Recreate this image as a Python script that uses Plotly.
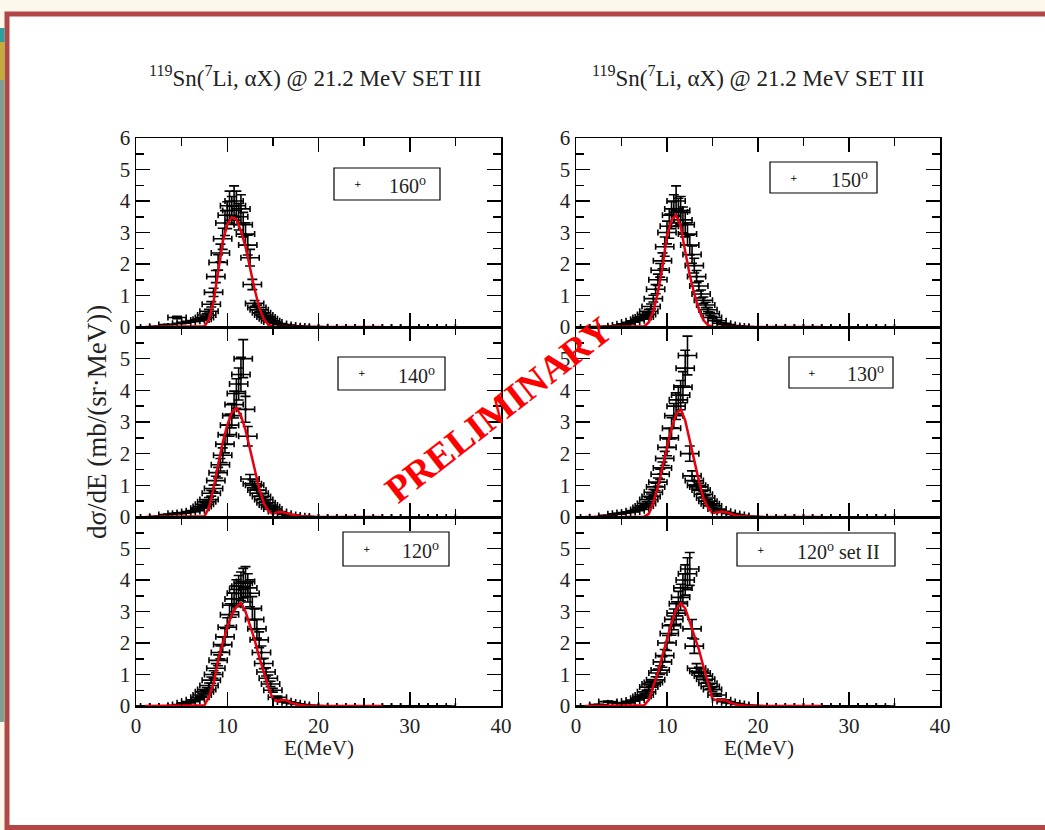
import plotly.graph_objects as go

W, H = 1045, 830


def px(x):
    return x / W


def py(y):
    return 1 - y / H


# ---------------- data ----------------
ENERGY = [0.5, 1.5, 2.5, 3.5, 4.5, 5.0, 5.5, 6.0, 6.5, 7.0,
          7.25, 7.5, 7.75, 8.0, 8.25, 8.5, 8.75, 9.0, 9.25, 9.5,
          9.75, 10.0, 10.25, 10.5, 10.75, 11.0, 11.25, 11.5, 11.75, 12.0,
          12.25, 12.5, 12.75, 13.0, 13.25, 13.5, 13.75, 14.0, 14.25, 14.5,
          14.75, 15.0, 15.5, 16.0, 16.5, 17.0, 17.5, 18.0, 19.0, 20.0,
          21.0, 22.0, 23.0, 24.0, 25.0, 26.0, 27.0, 28.0, 29.0, 30.0,
          31.0, 32.0, 33.0, 34.0]

Y_160 = [0, 0, 0.02, 0.08, 0.3, 0.12, 0.15, 0.18, 0.2, 0.22,
         0.25, 0.3, 0.38, 0.5, 0.72, 1.1, 1.6, 2.05, 2.35, 2.8,
         3.3, 3.55, 3.85, 3.7, 4.0, 3.85, 3.5, 3.75, 3.25, 2.95,
         2.6, 2.2, 1.35, 0.75, 0.62, 0.55, 0.45, 0.38, 0.32, 0.26,
         0.2, 0.16, 0.11, 0.08, 0.06, 0.04, 0.03, 0.02, 0.01, 0.01,
         0, 0, 0, 0, 0, 0, 0, 0, 0, 0,
         0, 0, 0, 0]

Y_150 = [0, 0, 0, 0.02, 0.04, 0.06, 0.1, 0.15, 0.2, 0.25,
         0.3, 0.32, 0.4, 0.5, 0.65, 0.9, 1.2, 1.5, 1.8, 2.1,
         2.55, 3.0, 3.2, 3.55, 3.75, 4.0, 3.65, 3.7, 3.4, 3.25,
         2.95, 2.6, 2.3, 1.95, 1.6, 1.3, 1.05, 0.85, 0.7, 0.55,
         0.42, 0.3, 0.2, 0.12, 0.08, 0.05, 0.03, 0.02, 0.01, 0,
         0, 0, 0, 0, 0, 0, 0, 0, 0, 0,
         0, 0, 0, 0]

Y_140 = [0, 0, 0.02, 0.08, 0.12, 0.12, 0.14, 0.17, 0.2, 0.28,
         0.33, 0.4, 0.48, 0.55, 0.75, 0.9, 1.15, 1.4, 1.65, 1.95,
         2.3, 2.6, 2.9, 3.2, 3.55, 3.9, 4.2, 4.5, 5.0, 3.4,
         2.55, 1.2, 1.05, 1.0, 0.85, 0.75, 0.65, 0.55, 0.45, 0.38,
         0.32, 0.25, 0.17, 0.12, 0.08, 0.06, 0.04, 0.03, 0.01, 0,
         0, 0, 0, 0, 0, 0, 0, 0, 0, 0,
         0, 0, 0, 0]

Y_130 = [0, 0, 0.01, 0.05, 0.1, 0.12, 0.14, 0.16, 0.2, 0.24,
         0.3, 0.35, 0.43, 0.55, 0.65, 0.78, 0.95, 1.1, 1.35, 1.55,
         1.85, 2.2, 2.5, 2.8, 3.2, 3.5, 3.7, 3.85, 4.1, 4.7,
         5.1, 2.0, 1.3, 1.15, 1.0, 0.95, 0.85, 0.72, 0.6, 0.5,
         0.42, 0.35, 0.25, 0.18, 0.14, 0.11, 0.08, 0.05, 0.02, 0.01,
         0, 0, 0, 0, 0, 0, 0, 0, 0, 0,
         0, 0, 0, 0]

Y_120 = [0, 0, 0, 0, 0.02, 0.05, 0.1, 0.14, 0.2, 0.28,
         0.35, 0.45, 0.52, 0.65, 0.82, 1.0, 1.2, 1.45, 1.7, 1.95,
         2.2, 2.5, 2.9, 3.2, 3.4, 3.58, 3.7, 3.8, 3.9, 3.95,
         3.75, 3.58, 3.1, 2.75, 2.45, 2.1, 1.7, 1.35, 1.08, 0.88,
         0.7, 0.5, 0.28, 0.17, 0.13, 0.1, 0.07, 0.05, 0.02, 0.01,
         0, 0, 0, 0, 0, 0, 0, 0, 0, 0,
         0, 0, 0, 0]

Y_120_II = [0, 0, 0.05, 0.14, 0.1, 0.08, 0.1, 0.15, 0.19, 0.25,
            0.3, 0.35, 0.45, 0.6, 0.7, 0.75, 0.83, 1.05, 1.14, 1.4,
            1.6, 2.0, 2.3, 2.55, 2.75, 2.95, 3.25, 3.45, 3.75, 4.0,
            4.2, 4.35, 2.45, 1.9, 1.2, 1.1, 1.05, 0.95, 0.85, 0.72,
            0.62, 0.52, 0.35, 0.2, 0.14, 0.1, 0.08, 0.05, 0.02, 0.01,
            0, 0, 0, 0, 0, 0, 0, 0, 0, 0,
            0, 0, 0, 0]

E_ERR = 1.0        # half width of the energy bins (MeV)
Y_ERR_PCT = 12     # relative error of the cross sections (%)

CURVE_E = [1.0, 3.0, 5.0, 6.0, 7.0,
           7.5, 8.0, 8.5, 9.0, 9.5, 10.0, 10.5, 11.0, 11.5, 12.0, 12.5, 13.0, 13.5, 14.0, 14.5, 15.0,
           15.5, 16.0, 16.5, 17.0, 17.5, 18.0, 19.0, 20.0, 22.0, 24.0, 27.0]

FIT_160 = [0, 0, 0, 0, 0,
           0.02, 0.25, 0.8, 1.75, 2.7, 3.25, 3.48, 3.42, 3.05, 2.55, 1.85, 1.2, 0.62, 0.25, 0.08, 0.02,
           0, 0, 0, 0, 0, 0, 0, 0, 0, 0, 0]
FIT_150 = [0, 0, 0, 0, 0,
           0.02, 0.15, 0.5, 1.1, 1.9, 2.9, 3.4, 3.55, 3.2, 2.4, 1.65, 1.05, 0.55, 0.22, 0.06, 0.01,
           0, 0, 0, 0, 0, 0, 0, 0, 0, 0, 0]
FIT_140 = [0, 0, 0, 0, 0,
           0.02, 0.3, 0.9, 1.65, 2.35, 2.9, 3.3, 3.45, 3.2, 2.75, 2.1, 1.45, 0.9, 0.45, 0.18, 0.1,
           0.15, 0.16, 0.12, 0.08, 0.05, 0.03, 0.01, 0, 0, 0, 0]
FIT_130 = [0, 0, 0, 0, 0,
           0.01, 0.1, 0.45, 0.95, 1.6, 2.25, 2.8, 3.25, 3.4, 3.05, 2.4, 1.8, 1.15, 0.6, 0.3, 0.12,
           0.15, 0.17, 0.15, 0.1, 0.06, 0.03, 0.01, 0, 0, 0, 0]
FIT_120 = [0, 0, 0, 0, 0,
           0.02, 0.3, 0.72, 1.46, 2.0, 2.5, 2.9, 3.15, 3.26, 3.0, 2.55, 2.1, 1.55, 1.05, 0.6, 0.22,
           0.15, 0.2, 0.18, 0.1, 0.06, 0.03, 0, 0, 0, 0, 0]
FIT_120_II = [0, 0, 0, 0, 0,
              0.02, 0.2, 0.6, 1.05, 1.6, 2.1, 2.65, 3.05, 3.26, 3.1, 2.65, 2.2, 1.8, 1.25, 0.7, 0.22,
              0.18, 0.2, 0.17, 0.1, 0.06, 0.03, 0, 0, 0, 0, 0]

LABELS = ["160<sup>o</sup>", "150<sup>o</sup>", "140<sup>o</sup>",
          "130<sup>o</sup>", "120<sup>o</sup>", "120<sup>o</sup> set II"]
TITLE = "<sup>119</sup>Sn(<sup>7</sup>Li, \u03b1X) @ 21.2 MeV SET III"
Y_TITLE = "d\u03c3/dE (mb/(sr\u00b7MeV))"
X_TITLE = "E(MeV)"
X_TICKS = [0, 10, 20, 30, 40]

for arr in (Y_160, Y_150, Y_140, Y_130, Y_120, Y_120_II):
    assert len(arr) == len(ENERGY)
for arr in (FIT_160, FIT_150, FIT_140, FIT_130, FIT_120, FIT_120_II):
    assert len(arr) == len(CURVE_E)

# ---------------- layout helpers ----------------
SERIF = "Liberation Serif, Times New Roman, serif"
COLS = [(136, 501), (576, 940)]
ROWS = [(138, 327), (327, 517), (517, 706)]

panels = [
    # data, fit, row, col, legend box (x0,y0,x1,y1), marker x, text x
    (Y_160, FIT_160, 0, 0, (334, 168, 440, 200), 358, 387),
    (Y_150, FIT_150, 0, 1, (770, 162, 877, 193), 794, 829),
    (Y_140, FIT_140, 1, 0, (338, 357, 445, 390), 362, 396),
    (Y_130, FIT_130, 1, 1, (789, 357, 893, 388), 812, 845),
    (Y_120, FIT_120, 2, 0, (343, 532, 449, 566), 367, 400),
    (Y_120_II, FIT_120_II, 2, 1, (737, 533, 895, 566), 761, 795),
]

fig = go.Figure()
shapes = []
annotations = []

# slide background / frame
shapes.append(dict(type="rect", xref="paper", yref="paper", x0=px(7), x1=px(1100),
                   y0=py(827.5), y1=py(14), fillcolor="white",
                   line=dict(color="#b24747", width=5), layer="below"))
shapes.append(dict(type="rect", xref="paper", yref="paper", x0=0, x1=px(4.5),
                   y0=py(722), y1=py(28), fillcolor="#7f9f92", line=dict(width=0), layer="below"))
shapes.append(dict(type="rect", xref="paper", yref="paper", x0=0, x1=px(4.5),
                   y0=py(80), y1=py(42), fillcolor="#c4ac3c", line=dict(width=0), layer="below"))
shapes.append(dict(type="rect", xref="paper", yref="paper", x0=0, x1=px(4.5),
                   y0=py(42), y1=py(28), fillcolor="#2e9f9c", line=dict(width=0), layer="below"))

axis_common = dict(showline=True, linecolor="black", linewidth=1.5, mirror="ticks",
                   ticks="inside", ticklen=14, tickwidth=1.5, tickcolor="black",
                   showgrid=False, zeroline=False, automargin=False,
                   tickfont=dict(family=SERIF, size=21, color="#222"))

for k, (yv, fit, r, c, box, mx, tx) in enumerate(panels, start=1):
    xa = "x" if k == 1 else f"x{k}"
    ya = "y" if k == 1 else f"y{k}"
    fig.add_trace(go.Scatter(
        x=ENERGY, y=yv, xaxis=xa, yaxis=ya, mode="markers",
        marker=dict(color="black", size=3),
        error_x=dict(type="constant", value=E_ERR, color="black", thickness=1.6, width=3),
        error_y=dict(type="percent", value=Y_ERR_PCT, color="black", thickness=1.6, width=5),
        showlegend=False, hoverinfo="skip"))
    fig.add_trace(go.Scatter(
        x=CURVE_E, y=fit, xaxis=xa, yaxis=ya, mode="lines",
        line=dict(color="#e8000f", width=2.5),
        showlegend=False, hoverinfo="skip"))

    c0, c1 = COLS[c]
    r0, r1 = ROWS[r]
    xkey = "xaxis" if k == 1 else f"xaxis{k}"
    ykey = "yaxis" if k == 1 else f"yaxis{k}"
    fig.layout[xkey] = dict(
        axis_common, domain=[px(c0), px(c1)], range=[0, 40], anchor=ya,
        tickmode="array", tickvals=X_TICKS, ticktext=[str(v) for v in X_TICKS],
        showticklabels=(r == 2),
        minor=dict(ticks="inside", ticklen=8, tickwidth=1.5, tickcolor="black",
                   tickmode="linear", tick0=0, dtick=5))
    ytext = [str(v) for v in range(7)]
    if r > 0:
        ytext[-1] = ""
    fig.layout[ykey] = dict(
        axis_common, domain=[py(r1), py(r0)], range=[0, 6], anchor=xa,
        tickmode="array", tickvals=list(range(7)), ticktext=ytext,
        minor=dict(ticks="inside", ticklen=8, tickwidth=1.5, tickcolor="black",
                   tickmode="linear", tick0=0, dtick=0.5))

    # legend box
    bx0, by0, bx1, by1 = box
    shapes.append(dict(type="rect", xref="paper", yref="paper", x0=px(bx0), x1=px(bx1),
                       y0=py(by1), y1=py(by0), fillcolor="white",
                       line=dict(color="black", width=1.2)))
    cy = (by0 + by1) / 2
    annotations.append(dict(xref="paper", yref="paper", x=px(mx), y=py(cy), text="+",
                            showarrow=False, xanchor="center", yanchor="middle",
                            font=dict(family="DejaVu Sans", size=9, color="black")))
    annotations.append(dict(xref="paper", yref="paper", x=px(tx), y=py(cy + 1),
                            text=LABELS[k - 1], showarrow=False,
                            xanchor="left", yanchor="middle",
                            font=dict(family=SERIF, size=20, color="#222")))

# titles
for cx in (315, 758):
    annotations.append(dict(xref="paper", yref="paper", x=px(cx), y=py(77), text=TITLE,
                            showarrow=False, xanchor="center", yanchor="middle",
                            font=dict(family=SERIF, size=23, color="#222")))
for cx in (319, 759):
    annotations.append(dict(xref="paper", yref="paper", x=px(cx), y=py(748), text=X_TITLE,
                            showarrow=False, xanchor="center", yanchor="middle",
                            font=dict(family=SERIF, size=21, color="#222")))
annotations.append(dict(xref="paper", yref="paper", x=px(97), y=py(422), text=Y_TITLE,
                        showarrow=False, textangle=-90, xanchor="center", yanchor="middle",
                        font=dict(family=SERIF, size=27, color="#222")))
annotations.append(dict(xref="paper", yref="paper", x=px(498), y=py(410),
                        text="<b>PRELIMINARY</b>", showarrow=False, textangle=-38,
                        xanchor="center", yanchor="middle",
                        font=dict(family=SERIF, size=38, color="#ff0000")))

fig.update_layout(template="none", width=W, height=H, autosize=False,
                  margin=dict(l=0, r=0, t=0, b=0, pad=0, autoexpand=False),
                  paper_bgcolor="#fdf8ec", plot_bgcolor="white",
                  shapes=shapes, annotations=annotations, showlegend=False)

fig.write_html("out.html",
               config={"displayModeBar": False, "staticPlot": True},
               post_script="document.body.style.margin='0px';"
                           "document.body.style.overflow='hidden';")
